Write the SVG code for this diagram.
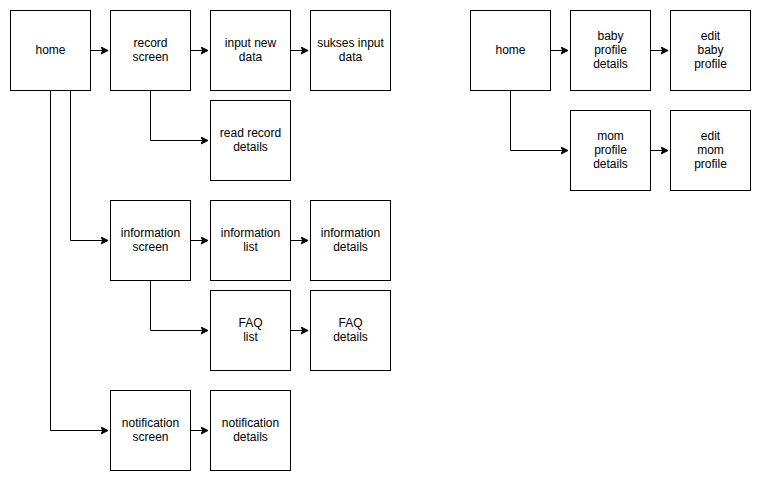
<svg xmlns="http://www.w3.org/2000/svg" width="762" height="482" viewBox="0 0 762 482">
<style>
.n rect{fill:#fff;stroke:#000;stroke-width:1}
.n text{font-family:"Liberation Sans",Arial,sans-serif;font-size:12px;fill:#000;text-anchor:middle}
.e path{fill:none;stroke:#000;stroke-width:1;marker-end:url(#ah)}
</style>
<defs>
<marker id="ah" markerWidth="10" markerHeight="10" refX="7" refY="4" orient="auto" markerUnits="userSpaceOnUse">
<path d="M0,0.5 L7,4 L0,7.5 L1.8,4 Z" fill="#000" stroke="#000" stroke-width="1"/>
</marker>
</defs>
<rect width="762" height="482" fill="#fff"/>
<g id="connectors" class="e">
<path d="M90.5,50.5 H108"/>
<path d="M190.5,50.5 H208"/>
<path d="M290.5,50.5 H308"/>
<path d="M150.5,90.5 V140.5 H208"/>
<path d="M70.5,90.5 V240.5 H108"/>
<path d="M190.5,240.5 H208"/>
<path d="M290.5,240.5 H308"/>
<path d="M150.5,280.5 V330.5 H208"/>
<path d="M290.5,330.5 H308"/>
<path d="M50.5,90.5 V430.5 H108"/>
<path d="M190.5,430.5 H208"/>
<path d="M550.5,50.5 H568"/>
<path d="M650.5,50.5 H668"/>
<path d="M510.5,90.5 V150.5 H568"/>
<path d="M650.5,150.5 H668"/>
</g>
<g id="home" class="n"><rect x="10.5" y="10.5" width="80" height="80"/><text x="50.5" y="54">home</text></g>
<g id="record-screen" class="n"><rect x="110.5" y="10.5" width="80" height="80"/><text x="150.5" y="47">record</text><text x="150.5" y="61">screen</text></g>
<g id="input-new-data" class="n"><rect x="210.5" y="10.5" width="80" height="80"/><text x="250.5" y="47">input new</text><text x="250.5" y="61">data</text></g>
<g id="sukses-input-data" class="n"><rect x="310.5" y="10.5" width="80" height="80"/><text x="350.5" y="47">sukses input</text><text x="350.5" y="61">data</text></g>
<g id="read-record-details" class="n"><rect x="210.5" y="100.5" width="80" height="80"/><text x="250.5" y="137">read record</text><text x="250.5" y="151">details</text></g>
<g id="information-screen" class="n"><rect x="110.5" y="200.5" width="80" height="80"/><text x="150.5" y="237">information</text><text x="150.5" y="251">screen</text></g>
<g id="information-list" class="n"><rect x="210.5" y="200.5" width="80" height="80"/><text x="250.5" y="237">information</text><text x="250.5" y="251">list</text></g>
<g id="information-details" class="n"><rect x="310.5" y="200.5" width="80" height="80"/><text x="350.5" y="237">information</text><text x="350.5" y="251">details</text></g>
<g id="faq-list" class="n"><rect x="210.5" y="290.5" width="80" height="80"/><text x="250.5" y="327">FAQ</text><text x="250.5" y="341">list</text></g>
<g id="faq-details" class="n"><rect x="310.5" y="290.5" width="80" height="80"/><text x="350.5" y="327">FAQ</text><text x="350.5" y="341">details</text></g>
<g id="notification-screen" class="n"><rect x="110.5" y="390.5" width="80" height="80"/><text x="150.5" y="427">notification</text><text x="150.5" y="441">screen</text></g>
<g id="notification-details" class="n"><rect x="210.5" y="390.5" width="80" height="80"/><text x="250.5" y="427">notification</text><text x="250.5" y="441">details</text></g>
<g id="home2" class="n"><rect x="470.5" y="10.5" width="80" height="80"/><text x="510.5" y="54">home</text></g>
<g id="baby-profile-details" class="n"><rect x="570.5" y="10.5" width="80" height="80"/><text x="610.5" y="40">baby</text><text x="610.5" y="54">profile</text><text x="610.5" y="68">details</text></g>
<g id="edit-baby-profile" class="n"><rect x="670.5" y="10.5" width="80" height="80"/><text x="710.5" y="40">edit</text><text x="710.5" y="54">baby</text><text x="710.5" y="68">profile</text></g>
<g id="mom-profile-details" class="n"><rect x="570.5" y="110.5" width="80" height="80"/><text x="610.5" y="140">mom</text><text x="610.5" y="154">profile</text><text x="610.5" y="168">details</text></g>
<g id="edit-mom-profile" class="n"><rect x="670.5" y="110.5" width="80" height="80"/><text x="710.5" y="140">edit</text><text x="710.5" y="154">mom</text><text x="710.5" y="168">profile</text></g>
</svg>
